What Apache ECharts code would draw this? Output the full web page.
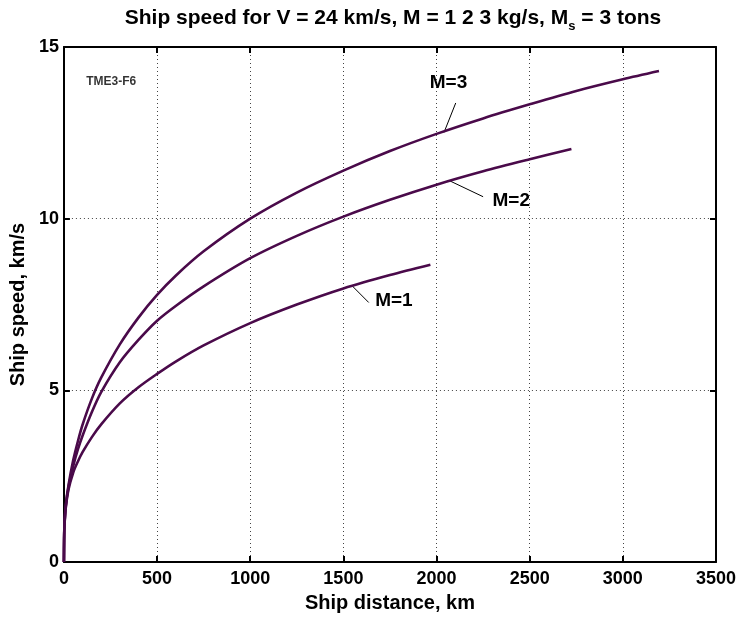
<!DOCTYPE html>
<html>
<head>
<meta charset="utf-8">
<script src="https://cdn.jsdelivr.net/npm/echarts@6/dist/echarts.min.js"></script>
<style>html,body{margin:0;padding:0;background:#fff}#c{width:740px;height:618px}</style>
</head>
<body>
<div id="c"></div>
<script>
// Data (km, km/s)
var m1X = [0, 1, 3, 10, 25, 50, 75, 100, 150, 200, 300, 400, 500, 600, 750, 1000, 1250, 1500, 1750, 1967];
var m1Y = [0, 0.62, 1.05, 1.58, 2.12, 2.61, 2.93, 3.20, 3.64, 4.01, 4.62, 5.09, 5.48, 5.84, 6.31, 6.96, 7.50, 7.97, 8.36, 8.66];
var m2X = [0, 1, 3, 10, 25, 50, 75, 100, 150, 200, 300, 400, 500, 600, 750, 1000, 1250, 1500, 1750, 2000, 2250, 2500, 2724];
var m2Y = [0, 0.64, 1.08, 1.62, 2.20, 2.80, 3.28, 3.68, 4.37, 4.95, 5.82, 6.47, 7.03, 7.46, 8.03, 8.85, 9.50, 10.06, 10.55, 10.99, 11.38, 11.73, 12.03];
var m3X = [0, 1, 3, 10, 25, 50, 75, 100, 150, 200, 300, 400, 500, 600, 750, 1000, 1250, 1500, 1750, 2000, 2250, 2500, 2750, 3000, 3194];
var m3Y = [0, 0.66, 1.10, 1.66, 2.25, 2.97, 3.52, 4.00, 4.76, 5.37, 6.34, 7.12, 7.78, 8.34, 9.05, 10.0, 10.76, 11.40, 11.97, 12.47, 12.92, 13.33, 13.72, 14.06, 14.30];
var seriesNames = ['M=1', 'M=2', 'M=3'];
// annotation labels (data coords) and leader lines
var labelPos = [[1771, 7.61], [2401, 10.51], [2064, 13.95]];
var leaderFrom = [[1636, 7.56], [2250, 10.64], [2103, 13.37]];
var leaderTo = [[1546, 8.05], [2072, 11.10], [2040, 12.51]];
var tagText = 'TME3-F6';
var tagPos = [254, 14.0];
var xTicks = {min: 0, max: 3500, interval: 500};
var yTicks = {min: 0, max: 15, interval: 5};

var FONT = "'Liberation Sans', Arial, Helvetica, sans-serif";
var lineColor = '#4a0a4a';
function zip(a, b) { return a.map(function (v, i) { return [v, b[i]]; }); }
var xs = [m1X, m2X, m3X], ys = [m1Y, m2Y, m3Y];

var series = seriesNames.map(function (n, i) {
  return {
    name: n, type: 'line', data: zip(xs[i], ys[i]), showSymbol: false, symbol: 'none',
    smooth: 0.3,
    lineStyle: {color: lineColor, width: 2.6}, z: 5, animation: false,
    markLine: {
      silent: true, symbol: 'none', animation: false,
      lineStyle: {color: '#000', width: 1, type: 'solid'},
      label: {show: false},
      data: [[{coord: leaderFrom[i]}, {coord: leaderTo[i]}]]
    },
    markPoint: {
      silent: true, symbol: 'rect', symbolSize: 1, animation: false,
      itemStyle: {color: 'rgba(0,0,0,0)'},
      label: {show: true, formatter: n, color: '#000', fontFamily: FONT, fontWeight: 'bold', fontSize: 19, position: 'inside'},
      data: [{coord: labelPos[i]}]
    }
  };
});
series.push({
  type: 'scatter', data: [tagPos], symbolSize: 0, silent: true, animation: false,
  label: {show: true, formatter: tagText, position: 'inside', color: '#000', fontFamily: FONT, fontWeight: 'bold', fontSize: 12}
});

function axisCommon(showLabels, margin) {
  return {
    axisLine: {show: true, onZero: false, lineStyle: {color: '#000', width: 2}},
    axisTick: {show: true, inside: true, length: 6, lineStyle: {color: '#000', width: 2}},
    axisLabel: {show: showLabels, color: '#000', fontFamily: FONT, fontWeight: 'bold', fontSize: 18, margin: margin,
      formatter: function (v) { return String(v); }},
    minorTick: {show: false}
  };
}
var gridLine = {show: true, lineStyle: {color: '#444', type: [1, 3], width: 1}};
var xMain = Object.assign({type: 'value', position: 'bottom', min: xTicks.min, max: xTicks.max, interval: xTicks.interval,
  name: 'Ship distance, km', nameLocation: 'middle', nameGap: 30,
  nameTextStyle: {color: '#000', fontFamily: FONT, fontWeight: 'bold', fontSize: 20},
  splitLine: gridLine}, axisCommon(true, 8));
var xTop = Object.assign({type: 'value', position: 'top', min: xTicks.min, max: xTicks.max, interval: xTicks.interval,
  splitLine: {show: false}}, axisCommon(false, 8));
var yMain = Object.assign({type: 'value', position: 'left', min: yTicks.min, max: yTicks.max, interval: yTicks.interval,
  name: 'Ship speed, km/s', nameLocation: 'middle', nameGap: 28,
  nameTextStyle: {color: '#000', fontFamily: FONT, fontWeight: 'bold', fontSize: 20},
  splitLine: gridLine}, axisCommon(true, 5));
var yRight = Object.assign({type: 'value', position: 'right', min: yTicks.min, max: yTicks.max, interval: yTicks.interval,
  splitLine: {show: false}}, axisCommon(false, 5));

var chart = echarts.init(document.getElementById('c'), null, {renderer: 'canvas'});
chart.setOption({
  backgroundColor: '#fff',
  animation: false,
  title: {
    text: '{a|Ship speed for V = 24 km/s, M = 1 2 3 kg/s, M}{s|s}{a| = 3 tons}',
    left: 388, top: 3, textAlign: 'center',
    textStyle: {
      rich: {
        a: {fontFamily: FONT, fontWeight: 'bold', fontSize: 21, color: '#000', lineHeight: 26, verticalAlign: 'top'},
        s: {fontFamily: FONT, fontWeight: 'bold', fontSize: 13, color: '#000', lineHeight: 26, verticalAlign: 'top', padding: [12, 0, 0, 0]}
      }
    }
  },
  grid: {left: 60, right: 24, top: 47, bottom: 53, containLabel: false},
  xAxis: [xMain, xTop],
  yAxis: [yMain, yRight],
  series: series
});
</script>
</body>
</html>
